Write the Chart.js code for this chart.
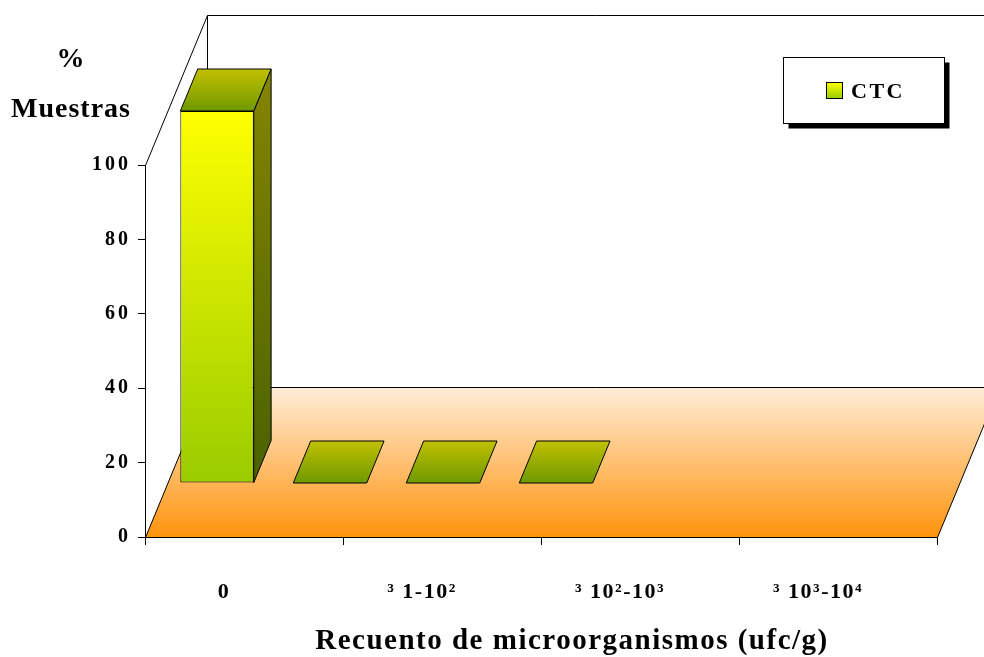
<!DOCTYPE html>
<html>
<head>
<meta charset="utf-8">
<title>Recuento de microorganismos</title>
<script src="https://cdn.jsdelivr.net/npm/chart.js@4/dist/chart.umd.min.js"></script>
<style>
  html, body { margin: 0; padding: 0; background: #ffffff; }
  canvas { display: block; }
</style>
</head>
<body>
<canvas id="chart" width="984" height="657"></canvas>
<script>
// ---- data ----
const categories = ['0', '\u00B3 1-10\u00B2', '\u00B3 10\u00B2-10\u00B3', '\u00B3 10\u00B3-10\u2074'];
const ctcValues = [100, 0, 0, 0];
const seriesName = 'CTC';
const yTicks = [0, 20, 40, 60, 80, 100];
const yTitleLines = ['%', 'Muestras'];
const xTitle = 'Recuento de microorganismos (ufc/g)';

// ---- style ----
const SERIF = "'Liberation Serif', 'Times New Roman', serif";
// depth vector of the 3-D box (px) and the slice of that depth the bar row occupies
const DEPTH = { dx: 62, dy: -150 };
const ROW = { start: 0.36, end: 0.64 };

function frontGradient(ctx, y0, y1) {
  const g = ctx.createLinearGradient(0, y0, 0, y1);
  g.addColorStop(0, '#FFFF00');
  g.addColorStop(1, '#99CC00');
  return g;
}

// walls, floor, depth faces of the bars, titles and legend
const box3d = {
  id: 'box3d',
  beforeDraw(chart) {
    chart.ctx.letterSpacing = '1.5px';
  },
  beforeDatasetsDraw(chart) {
    const { ctx, chartArea: a } = chart;
    const { dx, dy } = DEPTH;
    const L = a.left + 0.5, R = a.right + 0.5, T = a.top + 0.5, B = a.bottom + 0.5;
    ctx.save();
    const g = ctx.createLinearGradient(0, B + dy, 0, B);
    g.addColorStop(0, '#FFEDD8');
    g.addColorStop(1, '#FF930C');
    ctx.beginPath();
    ctx.moveTo(L, B);
    ctx.lineTo(R, B);
    ctx.lineTo(R + dx, B + dy);
    ctx.lineTo(L + dx, B + dy);
    ctx.closePath();
    ctx.fillStyle = g;
    ctx.fill();
    ctx.strokeStyle = '#000';
    ctx.lineWidth = 1;
    ctx.stroke();
    ctx.beginPath();
    ctx.moveTo(L, T);
    ctx.lineTo(L + dx, T + dy);
    ctx.lineTo(R + dx, T + dy);
    ctx.moveTo(L + dx, T + dy);
    ctx.lineTo(L + dx, B + dy);
    ctx.stroke();
    ctx.restore();
  },
  beforeDatasetDraw(chart, args) {
    const ctx = chart.ctx;
    ctx.save();
    ctx.translate(DEPTH.dx * ROW.start, DEPTH.dy * ROW.start);
    const bx = DEPTH.dx * (ROW.end - ROW.start);
    const by = DEPTH.dy * (ROW.end - ROW.start);
    const meta = chart.getDatasetMeta(args.index);
    ctx.lineWidth = 1;
    ctx.strokeStyle = '#000';
    meta.data.forEach(bar => {
      const { x, y, base, width } = bar.getProps(['x', 'y', 'base', 'width'], true);
      const l = x - width / 2, r = x + width / 2;
      const top = Math.min(y, base), bottom = Math.max(y, base);
      if (bottom - top > 0.5) {
        const sg = ctx.createLinearGradient(0, top + by, 0, bottom);
        sg.addColorStop(0, '#858500');
        sg.addColorStop(1, '#4A6200');
        ctx.beginPath();
        ctx.moveTo(r, top);
        ctx.lineTo(r + bx, top + by);
        ctx.lineTo(r + bx, bottom + by);
        ctx.lineTo(r, bottom);
        ctx.closePath();
        ctx.fillStyle = sg;
        ctx.fill();
        ctx.stroke();
      }
      const tg = ctx.createLinearGradient(0, top + by, 0, top);
      tg.addColorStop(0, '#C2C000');
      tg.addColorStop(1, '#6E9900');
      ctx.beginPath();
      ctx.moveTo(l, top);
      ctx.lineTo(r, top);
      ctx.lineTo(r + bx, top + by);
      ctx.lineTo(l + bx, top + by);
      ctx.closePath();
      ctx.fillStyle = tg;
      ctx.fill();
      ctx.stroke();
    });
  },
  afterDatasetDraw(chart) {
    chart.ctx.restore();
  },
  afterDatasetsDraw(chart) {
    // value-axis labels are drawn on a later layer, with wider spacing
    chart.ctx.letterSpacing = '3px';
  },
  afterDraw(chart) {
    const ctx = chart.ctx;
    const a = chart.chartArea;
    ctx.save();
    ctx.fillStyle = '#000';
    ctx.textBaseline = 'alphabetic';
    ctx.textAlign = 'center';
    ctx.font = `bold 28px ${SERIF}`;
    ctx.letterSpacing = '1px';
    ctx.fillText(yTitleLines[0], 71, 67);
    ctx.fillText(yTitleLines[1], 71, 117);

    // category-axis title, centred under the floor
    ctx.font = `bold 29px ${SERIF}`;
    ctx.letterSpacing = '1.5px';
    ctx.fillText(xTitle, (a.left + a.right + DEPTH.dx) / 2, 649);

    // legend box with drop shadow
    const bx = 783.5, by = 57.5, bw = 161, bh = 66;
    ctx.fillStyle = '#000';
    ctx.fillRect(bx + 5, by + 5, bw, bh);
    ctx.fillStyle = '#fff';
    ctx.fillRect(bx, by, bw, bh);
    ctx.strokeStyle = '#000';
    ctx.lineWidth = 1;
    ctx.strokeRect(bx, by, bw, bh);
    const sx = 826.5, sy = 82.5, ss = 16;
    ctx.fillStyle = frontGradient(ctx, sy, sy + ss);
    ctx.fillRect(sx, sy, ss, ss);
    ctx.strokeRect(sx, sy, ss, ss);
    ctx.fillStyle = '#000';
    ctx.textAlign = 'left';
    ctx.font = `bold 22px ${SERIF}`;
    ctx.letterSpacing = '2.5px';
    ctx.fillText(chart.data.datasets[0].label, 851, 98);
    ctx.restore();
    ctx.letterSpacing = '0px';
  }
};

const chart = new Chart(document.getElementById('chart'), {
  type: 'bar',
  data: {
    labels: categories,
    datasets: [{
      label: seriesName,
      data: categories.map((c, i) => ({ x: i, y: ctcValues[i] })),
      xAxisID: 'xb',
      yAxisID: 'y',
      backgroundColor(c) {
        const a = c.chart.chartArea;
        if (!a) return '#CCE600';
        return frontGradient(c.chart.ctx, a.top, a.bottom);
      },
      borderColor: '#000',
      borderWidth: 1,
      borderSkipped: false,
      categoryPercentage: 1,
      barPercentage: 0.65,
      clip: false
    }]
  },
  options: {
    responsive: false,
    animation: false,
    devicePixelRatio: 1,
    layout: { padding: { top: 165, right: 47, left: 0, bottom: 0 } },
    plugins: {
      legend: { display: false },
      tooltip: { enabled: false }
    },
    scales: {
      x: {
        type: 'category',
        labels: categories,
        offset: true,
        afterFit(s) { s.height = 120; },
        grid: { offset: true, drawOnChartArea: false, drawTicks: true, tickLength: 8, color: '#000' },
        border: { display: true, color: '#000', width: 1 },
        ticks: {
          color: '#000',
          padding: 34,
          labelOffset: -20,
          maxRotation: 0,
          autoSkip: false,
          font: { family: SERIF, size: 22, weight: 'bold' }
        },
        title: { display: false }
      },
      // bar row, seen in depth: narrower spacing than the front axis
      xb: {
        type: 'linear',
        display: false,
        offset: false,
        grid: { offset: false },
        min: -0.44,
        max: 6.57,
        afterBuildTicks(s) { s.ticks = categories.map((c, i) => ({ value: i })); }
      },
      y: {
        type: 'linear',
        min: 0,
        max: 100,
        afterFit(s) { s.width = 145; },
        afterBuildTicks(s) { s.ticks = yTicks.map(v => ({ value: v })); },
        grid: { drawOnChartArea: false, drawTicks: true, tickLength: 7, color: '#000' },
        border: { display: true, color: '#000', width: 1 },
        ticks: {
          color: '#000',
          padding: 7,
          z: 1,
          font: { family: SERIF, size: 20, weight: 'bold' }
        }
      }
    }
  },
  plugins: [box3d]
});
</script>
</body>
</html>
